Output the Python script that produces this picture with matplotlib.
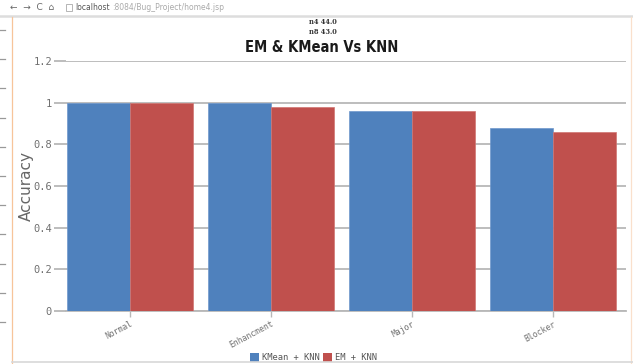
import matplotlib
matplotlib.use("Agg")
import matplotlib.pyplot as plt
from matplotlib import font_manager
from matplotlib.lines import Line2D
from matplotlib.patches import Rectangle
import numpy as np

categories = ["Normal", "Enhancment", "Major", "Blocker"]
kmean_knn = [1.0, 1.0, 0.96, 0.88]
em_knn = [1.0, 0.98, 0.96, 0.86]
series_names = ["KMean + KNN", "EM + KNN"]
y_ticks = [0, 0.2, 0.4, 0.6, 0.8, 1.0, 1.2]
y_tick_labels = ["0", "0.2", "0.4", "0.6", "0.8", "1", "1.2"]
info_lines = ["n4 44.0", "n8 43.0"]
title = "EM & KMean Vs KNN"

BLUE = "#4F81BD"
RED = "#C0504D"
GRID = "#b8b8b8"
TXT = "#707070"

# pick a narrow bold face for the heading if one is installed
fonts = font_manager.fontManager.ttflist
narrow = [f for f in fonts if f.stretch in ("condensed", "semi-condensed", "extra-condensed")
          or "Narrow" in f.name or "Condensed" in f.name]
if narrow:
    title_font = dict(family=narrow[0].name, fontstretch=narrow[0].stretch)
    title_size = 10.5
else:
    title_font = dict(family="Liberation Sans")
    title_size = 9.5

W, H = 633, 364
fig = plt.figure(figsize=(W / 100, H / 100), dpi=100)


def fx(px):
    return px / W


def fy(py):
    return 1 - py / H


# --- browser frame around the page ---
fig.text(fx(75), fy(7), "localhost", fontsize=5.5, color="#555555", va="center", ha="left")
fig.text(fx(112), fy(7), ":8084/Bug_Project/home4.jsp", fontsize=5.5, color="#aaaaaa",
         va="center", ha="left")
fig.text(fx(10), fy(7), "\u2190  \u2192  C  \u2302", fontsize=6.5, color="#666666",
         va="center", ha="left")
fig.add_artist(Rectangle((fx(66), fy(11)), fx(6), 7 / H, transform=fig.transFigure,
                         facecolor="none", edgecolor="#aaaaaa", lw=0.6))
fig.add_artist(Line2D([0, 1], [fy(16), fy(16)], transform=fig.transFigure,
                      color="#dddddd", lw=1.8))
fig.add_artist(Line2D([fx(12), fx(12)], [fy(17), 0], transform=fig.transFigure,
                      color="#f7c49a", lw=0.9))
fig.add_artist(Line2D([fx(631), fx(631)], [fy(17), 0], transform=fig.transFigure,
                      color="#fae0cc", lw=0.9))
fig.add_artist(Line2D([fx(12), 1], [fy(362), fy(362)], transform=fig.transFigure,
                      color="#d8d8d8", lw=1.2))
for k in range(11):
    yy = fy(30 + 29.2 * k)
    fig.add_artist(Line2D([0, fx(5)], [yy, yy], transform=fig.transFigure,
                          color="#999999", lw=0.9))

# --- chart ---
ax = fig.add_axes([fx(66), fy(311), fx(626) - fx(66), (311 - 61) / H])
x = np.arange(len(categories))
bw = 0.447
ax.bar(x - bw / 2, kmean_knn, width=bw, color=BLUE, edgecolor="#6f97cc", lw=0.5, zorder=3)
ax.bar(x + bw / 2, em_knn, width=bw, color=RED, edgecolor="#d07572", lw=0.5, zorder=3)

ax.set_xlim(-0.455, 3.52)
ax.set_ylim(0, 1.2)
ax.set_yticks(y_ticks)
ax.set_yticklabels(y_tick_labels, family="DejaVu Sans Mono", fontsize=7.5, color=TXT)
ax.yaxis.grid(True, color=GRID, lw=1.3, zorder=0)
ax.set_xticks(x)
ax.set_xticklabels(categories, rotation=28, ha="right", va="top", rotation_mode="anchor",
                   family="DejaVu Sans Mono", fontsize=5.8, color=TXT)
ax.tick_params(axis="y", length=9, color=GRID, width=1.3, pad=1)
ax.tick_params(axis="x", length=4, color=GRID, width=1.0, pad=2)
for s in ["top", "right", "left"]:
    ax.spines[s].set_visible(False)
ax.spines["bottom"].set_color(GRID)
ax.spines["bottom"].set_linewidth(1.3)

fig.text(fx(26), fy(186), "Accuracy", rotation=90, fontsize=11, color="#666666",
         ha="center", va="center")

fig.text(fx(322), fy(48), title, fontsize=title_size, fontweight="heavy",
         color="#1a1a1a", ha="center", va="center", **title_font)
fig.text(fx(323), fy(22.5), info_lines[0], fontsize=4.8, family="DejaVu Serif",
         fontweight="bold", color="#333333", ha="center", va="center")
fig.text(fx(323), fy(31.5), info_lines[1], fontsize=4.8, family="DejaVu Serif",
         fontweight="bold", color="#333333", ha="center", va="center")

# legend
legend_items = [(250, BLUE, series_names[0]), (323, RED, series_names[1])]
for x0, col, name in legend_items:
    fig.add_artist(Rectangle((fx(x0), fy(362)), fx(9), 9 / H, transform=fig.transFigure,
                             facecolor=col, edgecolor="none"))
    fig.text(fx(x0 + 12), fy(358), name, family="DejaVu Sans Mono", fontsize=6.3,
             color="#555555", ha="left", va="center")

fig.savefig("out.png", dpi=100)
